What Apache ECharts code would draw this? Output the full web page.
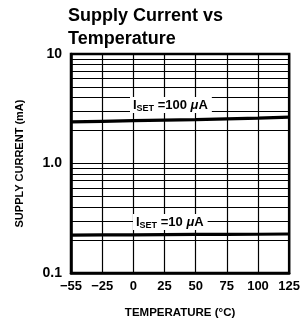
<!DOCTYPE html>
<html><head><meta charset="utf-8">
<script src="https://cdn.jsdelivr.net/npm/echarts@6/dist/echarts.min.js"></script>
<style>html,body{margin:0;padding:0;background:#fff}#c{width:303px;height:328px}</style>
</head><body><div id="c"></div>
<script>
var temps = ['-55', '-25', '0', '25', '50', '75', '100', '125'];
var iset100 = [2.40, 2.43, 2.46, 2.49, 2.52, 2.56, 2.60, 2.65];
var iset10 = [0.222, 0.223, 0.223, 0.224, 0.225, 0.225, 0.226, 0.227];
var minorGrid = [0.2, 0.3, 0.4, 0.5, 0.6, 0.7, 0.8, 0.9, 2, 3, 4, 5, 6, 7, 8, 9];
var yTickLabels = {'0.1': '0.1', '1': '1.0', '10': '10'};
var xTickLabels = ['\u221255', '\u221225', '0', '25', '50', '75', '100', '125'];

var sans = 'Liberation Sans';
var chart = echarts.init(document.getElementById('c'), null, {renderer: 'canvas'});
var richStyle = {
  a: {fontFamily: sans, fontWeight: 'bold', fontSize: 13, color: '#000', lineHeight: 16},
  b: {fontFamily: sans, fontWeight: 'bold', fontSize: 9, color: '#000', lineHeight: 16, verticalAlign: 'bottom'},
  c: {fontFamily: sans, fontWeight: 'bold', fontStyle: 'italic', fontSize: 13, color: '#000', lineHeight: 16}
};
chart.setOption({
  animation: false,
  title: {
    text: 'Supply Current vs\nTemperature',
    left: 63, top: 2, padding: [3, 5],
    textStyle: {fontFamily: sans, fontWeight: 'bold', fontSize: 18, lineHeight: 23, color: '#000'}
  },
  grid: {left: 71, right: 12, top: 54, bottom: 55, show: true, borderColor: '#000', borderWidth: 2.5, backgroundColor: 'transparent'},
  xAxis: {
    type: 'category', data: temps, boundaryGap: false,
    axisLine: {show: true, lineStyle: {color: '#000', width: 2.5}},
    axisTick: {show: false},
    splitLine: {show: true, interval: 0, lineStyle: {color: '#000', width: 1.2}},
    axisLabel: {
      interval: 0, margin: 7, color: '#000', fontFamily: sans, fontWeight: 'bold', fontSize: 13,
      formatter: function (v, i) { return xTickLabels[i]; }
    },
    name: 'TEMPERATURE (\u00b0C)', nameLocation: 'middle', nameGap: 34,
    nameTextStyle: {color: '#000', fontFamily: sans, fontWeight: 'bold', fontSize: 11.5}
  },
  yAxis: {
    type: 'log', logBase: 10, min: 0.1, max: 10,
    axisLine: {show: true, lineStyle: {color: '#000', width: 2.5}},
    axisTick: {show: false},
    splitLine: {show: true, lineStyle: {color: '#000', width: 1.2}},
    axisLabel: {
      margin: 9, color: '#000', fontFamily: sans, fontWeight: 'bold', fontSize: 14,
      formatter: function (v) { var k = String(+v.toPrecision(3)); return yTickLabels[k] || ''; }
    },
    name: 'SUPPLY CURRENT (mA)', nameLocation: 'middle', nameGap: 46,
    nameTextStyle: {color: '#000', fontFamily: sans, fontWeight: 'bold', fontSize: 11}
  },
  series: [
    {
      type: 'line', data: iset100, symbol: 'none', z: 5,
      lineStyle: {color: '#000', width: 3.2},
      markLine: {
        silent: true, symbol: 'none', animation: false,
        label: {show: false},
        lineStyle: {color: '#000', width: 1.2, type: 'solid'},
        data: minorGrid.map(function (v) { return {yAxis: v}; })
      }
    },
    {
      type: 'line', data: iset10, symbol: 'none', z: 5,
      lineStyle: {color: '#000', width: 3.2}
    }
  ],
  graphic: [
    {
      type: 'text', left: 130, top: 97, z: 20,
      style: {
        text: '{a|I}{b|SET}{a| =100 }{c|\u03bc}{a|A}', rich: richStyle,
        backgroundColor: '#fff', padding: [0, 4, 0, 3]
      }
    },
    {
      type: 'text', left: 133, top: 214, z: 20,
      style: {
        text: '{a|I}{b|SET}{a| =10 }{c|\u03bc}{a|A}', rich: richStyle,
        backgroundColor: '#fff', padding: [0, 4, 0, 3]
      }
    }
  ]
});
</script></body></html>
